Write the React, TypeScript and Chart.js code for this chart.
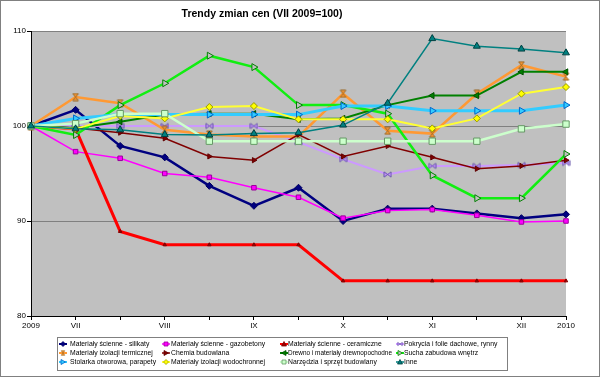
import React, { useEffect, useRef } from 'react';
import { Chart, registerables } from 'chart.js';

Chart.register(...registerables);

const titleText = 'Trendy zmian cen (VII 2009=100)';
const categories = ['2009', 'VII', '', 'VIII', '', 'IX', '', 'X', '', 'XI', '', 'XII', '2010'];
const yTicks = [80, 90, 100, 110];

const seriesNames = [
  'Materiały ścienne - silikaty',
  'Materiały ścienne - gazobetony',
  'Materiały ścienne - ceramiczne',
  'Pokrycia i folie dachowe, rynny',
  'Materiały izolacji termicznej',
  'Chemia budowlana',
  'Drewno i materiały drewnopochodne',
  'Sucha zabudowa wnętrz',
  'Stolarka otworowa, parapety',
  'Materiały izolacji wodochronnej',
  'Narzędzia i sprzęt budowlany',
  'Inne',
];

const silikaty = [100, 101.7, 97.9, 96.7, 93.7, 91.6, 93.5, 90.0, 91.3, 91.3, 90.8, 90.3, 90.7];
const gazobetony = [100, 97.3, 96.6, 95.0, 94.6, 93.5, 92.5, 90.3, 91.1, 91.2, 90.6, 89.9, 90.0];
const ceramiczne = [100, 99.7, 88.9, 87.5, 87.5, 87.5, 87.5, 83.7, 83.7, 83.7, 83.7, 83.7, 83.7];
const pokrycia = [100, 100, 100, 100, 100, 100, 98.3, 96.5, 94.9, 95.8, 95.8, 95.9, 96.1];
const termiczna = [100, 103.05, 102.4, 99.6, 99.1, 98.9, 98.9, 103.4, 99.5, 99.2, 103.4, 106.4, 105.2];
const chemia = [100, 99.8, 99.3, 98.7, 96.8, 96.4, 99.1, 96.8, 97.9, 96.7, 95.5, 95.8, 96.4];
const drewno = [100, 99.8, 100.45, 101.2, 101.3, 101.3, 100.7, 100.8, 102.2, 103.2, 103.2, 105.7, 105.7];
const sucha = [100, 99.05, 102.2, 104.5, 107.4, 106.2, 102.2, 102.2, 101.3, 94.8, 92.4, 92.4, 97.05];
const stolarka = [100, 100.8, 101.2, 101.2, 101.2, 101.2, 101.2, 102.1, 102.1, 101.6, 101.6, 101.6, 102.2];
const wodochronna = [100, 99.7, 101.05, 100.8, 102.0, 102.1, 100.7, 100.7, 100.7, 99.75, 100.8, 103.4, 104.1];
const narzedzia = [100, 100.25, 101.3, 101.3, 98.4, 98.4, 98.4, 98.4, 98.4, 98.4, 98.4, 99.7, 100.2];
const inne = [100, 99.7, 99.6, 99.1, 99.05, 99.2, 99.3, 100.1, 102.4, 109.2, 108.4, 108.1, 107.7];

const seriesValues = [
  silikaty, gazobetony, ceramiczne, pokrycia, termiczna, chemia,
  drewno, sucha, stolarka, wodochronna, narzedzia, inne,
];

function makeMarker(kind: string, r: number, fill: string, stroke: string) {
  const c = document.createElement('canvas');
  const s = Math.ceil(2 * r + 2);
  c.width = s;
  c.height = s;
  const ctx = c.getContext('2d')!;
  ctx.translate(s / 2, s / 2);
  ctx.beginPath();
  if (kind === 'bowtie') {
    const h = r * 0.75;
    ctx.moveTo(-r, -h);
    ctx.lineTo(r, h);
    ctx.lineTo(r, -h);
    ctx.lineTo(-r, h);
    ctx.closePath();
  } else {
    const w = r * 0.8;
    ctx.moveTo(-w, -r);
    ctx.lineTo(w, -r);
    ctx.lineTo(-w, r);
    ctx.lineTo(w, r);
    ctx.closePath();
  }
  ctx.fillStyle = fill;
  ctx.fill();
  ctx.strokeStyle = stroke;
  ctx.lineWidth = 1;
  ctx.stroke();
  return c;
}

type Style = {
  color: string; width: number; point: any; rot: number; r: number; fill: string; stroke: string;
};

function buildStyles(): Style[] {
  return [
    { color: '#000080', width: 2.5, point: 'rectRot', rot: 0, r: 3.5, fill: '#000080', stroke: '#000060' },
    { color: '#FF00FF', width: 1.5, point: 'rect', rot: 0, r: 3.2, fill: '#FF00FF', stroke: '#990099' },
    { color: '#FF0000', width: 3, point: 'triangle', rot: 0, r: 2, fill: '#990000', stroke: '#800000' },
    { color: '#CC99FF', width: 2, point: makeMarker('bowtie', 3.5, '#CC99FF', '#6655AA'), rot: 0, r: 3.5, fill: '#CC99FF', stroke: '#6655AA' },
    { color: '#FF9933', width: 2.5, point: makeMarker('hourglass', 3.5, '#FF9933', '#996622'), rot: 0, r: 3.5, fill: '#FF9933', stroke: '#996622' },
    { color: '#800000', width: 1.5, point: 'triangle', rot: 90, r: 3, fill: '#800000', stroke: '#600000' },
    { color: '#008000', width: 2, point: 'triangle', rot: 270, r: 3.5, fill: '#008000', stroke: '#005000' },
    { color: '#11EE11', width: 2.5, point: 'triangle', rot: 90, r: 4, fill: '#C0C0C0', stroke: '#008000' },
    { color: '#33CCFF', width: 3, point: 'triangle', rot: 90, r: 4, fill: '#33CCFF', stroke: '#0066CC' },
    { color: '#FFFF33', width: 2, point: 'rectRot', rot: 0, r: 3.5, fill: '#FFFF00', stroke: '#999900' },
    { color: '#CCFFCC', width: 2.5, point: 'rect', rot: 0, r: 4.5, fill: '#CCFFCC', stroke: '#669966' },
    { color: '#008080', width: 1.5, point: 'triangle', rot: 0, r: 4, fill: '#008080', stroke: '#004040' },
  ];
}

const FONT = '"Liberation Sans", Arial, sans-serif';

export default function App() {
  const ref = useRef<HTMLCanvasElement | null>(null);

  useEffect(() => {
    if (!ref.current) return;
    const styles = buildStyles();

    const bgPlugin = {
      id: 'bgPlugin',
      beforeDraw(chart: any) {
        const { ctx, chartArea } = chart;
        ctx.save();
        ctx.fillStyle = '#FFFFFF';
        ctx.fillRect(0, 0, chart.width, chart.height);
        ctx.fillStyle = '#C0C0C0';
        ctx.fillRect(chartArea.left, chartArea.top, chartArea.right - chartArea.left, chartArea.bottom - chartArea.top);
        ctx.restore();
      },
      afterDraw(chart: any) {
        const ctx = chart.ctx;
        ctx.save();
        // title
        ctx.font = 'bold 10.5px ' + FONT;
        ctx.fillStyle = '#000';
        ctx.textAlign = 'center';
        ctx.textBaseline = 'middle';
        ctx.fillText(titleText, 262, 14);
        // legend box
        ctx.fillStyle = '#FFFFFF';
        ctx.fillRect(57.5, 337.5, 450, 33);
        ctx.strokeStyle = '#808080';
        ctx.lineWidth = 1;
        ctx.strokeRect(57.5, 337.5, 450, 33);
        const colX = [63, 166, 284, 400];
        const textX = [70, 171, 288, 404];
        const maxW = [92, 110, 104, 100];
        const rowY = [344, 353, 362];
        ctx.font = '6.8px ' + FONT;
        ctx.textAlign = 'left';
        ctx.textBaseline = 'middle';
        seriesNames.forEach((name, i) => {
          const st = styles[i];
          const cx = colX[i % 4];
          const cy = rowY[Math.floor(i / 4)];
          ctx.strokeStyle = st.color;
          ctx.lineWidth = Math.min(st.width, 2);
          ctx.beginPath();
          ctx.moveTo(cx - 4, cy);
          ctx.lineTo(cx + 4, cy);
          ctx.stroke();
          if (typeof st.point === 'string') {
            ctx.save();
            ctx.translate(cx, cy);
            ctx.rotate((st.rot * Math.PI) / 180);
            ctx.beginPath();
            const r = 2.5;
            if (st.point === 'rect') {
              ctx.rect(-r * 0.8, -r * 0.8, r * 1.6, r * 1.6);
            } else if (st.point === 'rectRot') {
              ctx.moveTo(0, -r); ctx.lineTo(r, 0); ctx.lineTo(0, r); ctx.lineTo(-r, 0); ctx.closePath();
            } else {
              ctx.moveTo(0, -r); ctx.lineTo(r, r * 0.8); ctx.lineTo(-r, r * 0.8); ctx.closePath();
            }
            ctx.fillStyle = st.fill;
            ctx.fill();
            ctx.strokeStyle = st.stroke;
            ctx.lineWidth = 0.8;
            ctx.stroke();
            ctx.restore();
          } else {
            ctx.drawImage(st.point, cx - 3, cy - 3, 6, 6);
          }
          ctx.fillStyle = '#000';
          ctx.fillText(name, textX[i % 4], cy + 0.5, maxW[i % 4]);
        });
        // outer frame
        ctx.strokeStyle = '#808080';
        ctx.lineWidth = 1;
        ctx.strokeRect(0.5, 0.5, chart.width - 1, chart.height - 1);
        ctx.restore();
      },
    };

    const datasets = seriesNames.map((name, i) => {
      const st = styles[i];
      return {
        label: name,
        data: seriesValues[i],
        borderColor: st.color,
        backgroundColor: st.fill,
        borderWidth: st.width,
        pointStyle: st.point,
        pointRotation: st.rot,
        pointRadius: st.r,
        pointBackgroundColor: st.fill,
        pointBorderColor: st.stroke,
        pointBorderWidth: 1,
        tension: 0,
        fill: false,
        order: -i,
      };
    });

    const chart = new Chart(ref.current, {
      type: 'line',
      data: { labels: categories, datasets },
      plugins: [bgPlugin],
      options: {
        responsive: false,
        animation: false,
        layout: { padding: { left: 0, top: 31, right: 34, bottom: 0 } },
        plugins: {
          legend: { display: false },
          title: { display: false },
          tooltip: { enabled: false },
        },
        scales: {
          x: {
            type: 'category',
            offset: false,
            afterFit: (s: any) => { s.height = 61; },
            grid: { drawOnChartArea: false, drawTicks: true, tickLength: 4, tickColor: '#000' },
            border: { color: '#000', width: 1 },
            ticks: {
              autoSkip: false,
              maxRotation: 0,
              minRotation: 0,
              padding: 1,
              color: '#000',
              font: { family: FONT, size: 8 },
            },
          },
          y: {
            min: yTicks[0],
            max: yTicks[yTicks.length - 1],
            afterFit: (s: any) => { s.width = 31; },
            afterBuildTicks: (s: any) => { s.ticks = yTicks.map((v) => ({ value: v })); },
            grid: { color: '#808080', lineWidth: 1, drawTicks: true, tickLength: 4, tickColor: '#000' },
            border: { color: '#000', width: 1 },
            ticks: {
              padding: 1,
              color: '#000',
              font: { family: FONT, size: 8 },
            },
          },
        },
      },
    } as any);

    return () => chart.destroy();
  }, []);

  return (
    <div style={{ position: 'fixed', left: 0, top: 0, width: 600, height: 377, background: '#fff' }}>
      <canvas ref={ref} width={600} height={377} style={{ display: 'block', width: 600, height: 377 }} />
    </div>
  );
}
